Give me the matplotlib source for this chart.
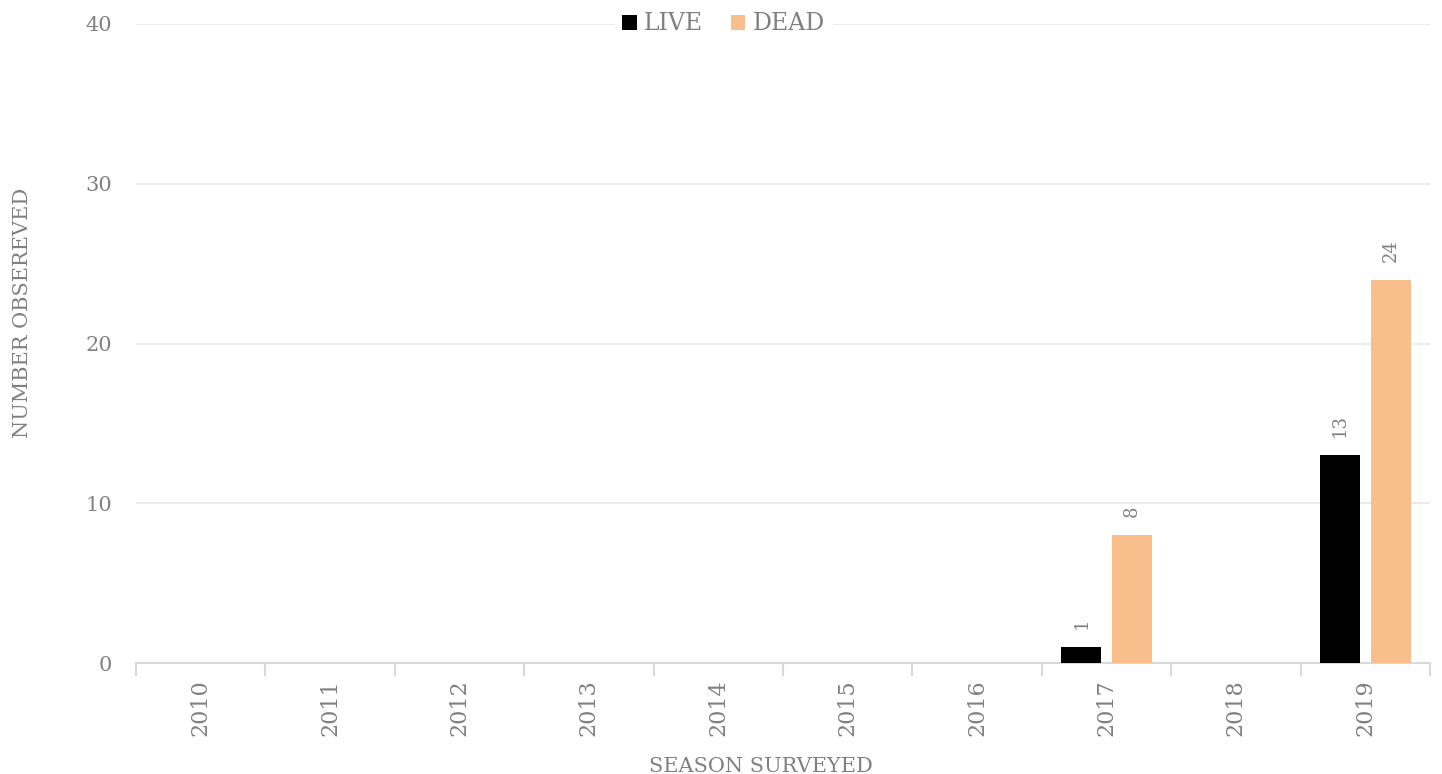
import matplotlib
matplotlib.use("Agg")
from matplotlib import pyplot as plt
import numpy as np

# chart data
seasons = ["2010", "2011", "2012", "2013", "2014", "2015", "2016", "2017", "2018", "2019"]
live = [0, 0, 0, 0, 0, 0, 0, 1, 0, 13]
dead = [0, 0, 0, 0, 0, 0, 0, 8, 0, 24]

LIVE_COLOR = "#000000"
DEAD_COLOR = "#f8be8c"
TEXT_GRAY = "#808080"
GRID_GRAY = "#e8e8e8"
AXIS_GRAY = "#d9d9d9"

plt.rcParams["font.family"] = ["DejaVu Serif"]

fig = plt.figure(figsize=(14.42, 7.74), dpi=100)
ax = fig.add_axes([0.0943, 0.1434, 0.8974, 0.8256])

x = np.arange(len(seasons))
width = 0.31
offset = 0.195

bars_live = ax.bar(x - offset, live, width, color=LIVE_COLOR, label="LIVE", zorder=3)
bars_dead = ax.bar(x + offset, dead, width, color=DEAD_COLOR, label="DEAD", zorder=3)

for bars in (bars_live, bars_dead):
    for b in bars:
        h = b.get_height()
        if h > 0:
            ax.annotate(str(int(h)), (b.get_x() + b.get_width() / 2, h),
                        xytext=(0, 13), textcoords="offset points",
                        rotation=90, ha="center", va="bottom",
                        color=TEXT_GRAY, fontsize=13)

ax.set_xlim(-0.5, len(seasons) - 0.5)
ax.set_ylim(0, 40)
ax.set_yticks([0, 10, 20, 30, 40])
ax.yaxis.grid(True, color=GRID_GRAY, linewidth=1.2, zorder=0)
ax.set_axisbelow(True)

ax.set_xticks(x)
ax.set_xticklabels(seasons, rotation=90, color=TEXT_GRAY, fontsize=16)
ax.set_xticks(np.arange(-0.5, len(seasons)), minor=True)
ax.tick_params(axis="x", which="major", length=0, pad=12)
ax.tick_params(axis="x", which="minor", length=9, color=AXIS_GRAY, width=1.5)
ax.tick_params(axis="y", length=0, labelsize=15, labelcolor=TEXT_GRAY, pad=17)

for side in ("top", "right", "left"):
    ax.spines[side].set_visible(False)
ax.spines["bottom"].set_color(AXIS_GRAY)
ax.spines["bottom"].set_linewidth(1.5)

ax.set_xlabel("SEASON SURVEYED", color=TEXT_GRAY, fontsize=15)
ax.xaxis.set_label_coords(0.483, -0.147)
ax.set_ylabel("NUMBER OBSEREVED", color=TEXT_GRAY, fontsize=15)
ax.yaxis.set_label_coords(-0.080, 0.548)

leg = ax.legend(loc="center", bbox_to_anchor=(0.454, 1.0), ncol=2, frameon=True,
                fontsize=17, handlelength=0.6, handleheight=0.6, handletextpad=0.3,
                columnspacing=1.2, borderpad=0.3)
leg.get_frame().set_edgecolor("white")
leg.get_frame().set_facecolor("white")
leg.get_frame().set_alpha(1)
for t in leg.get_texts():
    t.set_color(TEXT_GRAY)

fig.savefig("out.png", dpi=100)
